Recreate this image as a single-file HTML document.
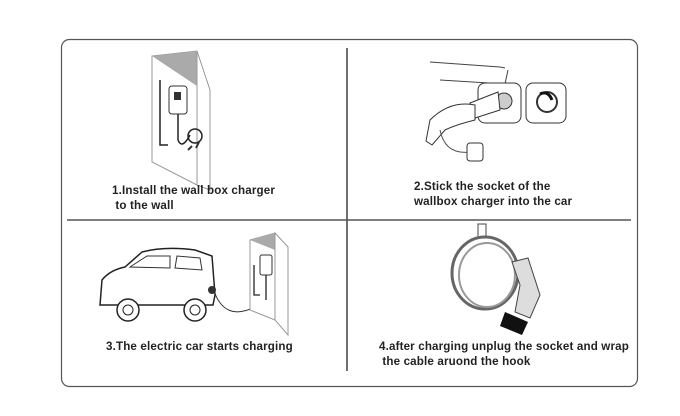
<!DOCTYPE html>
<html><head><style>
body{margin:0;background:#fff;width:680px;height:416px;overflow:hidden;position:relative;font-family:"Liberation Sans",sans-serif}
.t{position:absolute;font-size:11.6px;font-weight:bold;color:#222;line-height:15px;white-space:pre;letter-spacing:0.15px}
</style></head><body>
<svg width="680" height="416" style="position:absolute;left:0;top:0">
<rect x="61.5" y="39.5" width="576" height="347" rx="8" fill="none" stroke="#555" stroke-width="1.2"/>
<line x1="347" y1="48" x2="347" y2="371" stroke="#111" stroke-width="1.2"/>
<line x1="67" y1="220" x2="631" y2="220" stroke="#555" stroke-width="1.5"/>
<polygon points="152,56 197,51 197,185 152,162" fill="#fff" stroke="#999"/>
<polygon points="152,56 197,51 197,86" fill="#aaa"/>
<polygon points="197,51 210,90 210,190 197,185" fill="#fff" stroke="#999"/>
<rect x="169" y="86" width="18" height="28" rx="3" fill="#fff" stroke="#333"/>
<rect x="174" y="92" width="7" height="8" fill="#333"/>
<path d="M160,80 L160,145 L168,145 M178,114 L178,140 Q182,150 190,135" fill="none" stroke="#222" stroke-width="1.5"/>
<circle cx="195" cy="136" r="7" fill="none" stroke="#222" stroke-width="1.5"/>
<path d="M188,150 l4,-4 M196,148 l3,-6" stroke="#333" stroke-width="2"/>
<path d="M430,62 L500,67 L505,68 M440,80 L505,84 L508,70" fill="none" stroke="#444"/>
<rect x="478" y="83" width="43" height="40" rx="7" fill="#fff" stroke="#333"/>
<rect x="526" y="83" width="40" height="40" rx="7" fill="#fff" stroke="#333"/>
<circle cx="547" cy="102" r="10" fill="none" stroke="#333" stroke-width="2"/>
<path d="M540,94 q8,-4 12,6" stroke="#111" stroke-width="3" fill="none"/>
<circle cx="504" cy="101" r="8" fill="#ccc" stroke="#333"/>
<path d="M470,103 L498,92 L500,110 L475,118 Z" fill="#fff" stroke="#333"/>
<path d="M430,120 q20,-20 45,-15 l0,15 q-20,5 -30,10 L432,145 l-6,-4 Z" fill="#fff" stroke="#333"/>
<path d="M440,130 q5,25 30,22" fill="none" stroke="#555"/>
<rect x="467" y="143" width="16" height="18" rx="3" fill="#fff" stroke="#333"/>
<path d="M100,305 L102,280 Q110,270 125,267 L142,252 Q165,246 195,250 L212,256 L215,295 L213,305 Z" fill="#fff" stroke="#222" stroke-width="1.5"/>
<path d="M130,267 L147,256 L170,256 L170,268 Z M175,268 L177,256 L200,258 L202,270 Z" fill="#fff" stroke="#333"/>
<circle cx="128" cy="310" r="11" fill="#fff" stroke="#222" stroke-width="1.5"/><circle cx="128" cy="310" r="5" fill="none" stroke="#222"/>
<circle cx="195" cy="310" r="11" fill="#fff" stroke="#222" stroke-width="1.5"/><circle cx="195" cy="310" r="5" fill="none" stroke="#222"/>
<circle cx="212" cy="290" r="4" fill="#333"/>
<path d="M214,291 Q225,322 255,307 L264,297" fill="none" stroke="#333"/>
<polygon points="250,240 275,233 275,320 250,310" fill="#fff" stroke="#999"/>
<polygon points="250,240 275,233 275,250" fill="#aaa"/>
<polygon points="275,233 288,247 288,335 275,320" fill="#fff" stroke="#999"/>
<rect x="260" y="255" width="12" height="20" rx="2" fill="#fff" stroke="#333"/>
<path d="M254,265 L254,295 L260,295 M266,275 L266,300" stroke="#222" fill="none" stroke-width="1.3"/>
<rect x="478" y="224" width="8" height="14" fill="#fff" stroke="#444"/>
<ellipse cx="485" cy="273" rx="33" ry="36" fill="none" stroke="#666" stroke-width="3"/>
<ellipse cx="487" cy="275" rx="28" ry="32" fill="none" stroke="#999" stroke-width="2"/>
<path d="M512,262 L528,258 L540,295 L530,318 L515,312 L520,285 Z" fill="#ddd" stroke="#444"/>
<polygon points="505,312 528,322 522,335 500,326" fill="#111"/>
</svg>
<div class="t" style="left:112px;top:183px">1.Install the wall box charger
 to the wall</div>
<div class="t" style="left:414px;top:179px">2.Stick the socket of the
wallbox charger into the car</div>
<div class="t" style="left:106px;top:339px">3.The electric car starts charging</div>
<div class="t" style="left:379px;top:339px">4.after charging unplug the socket and wrap
 the cable aruond the hook</div>
</body></html>
